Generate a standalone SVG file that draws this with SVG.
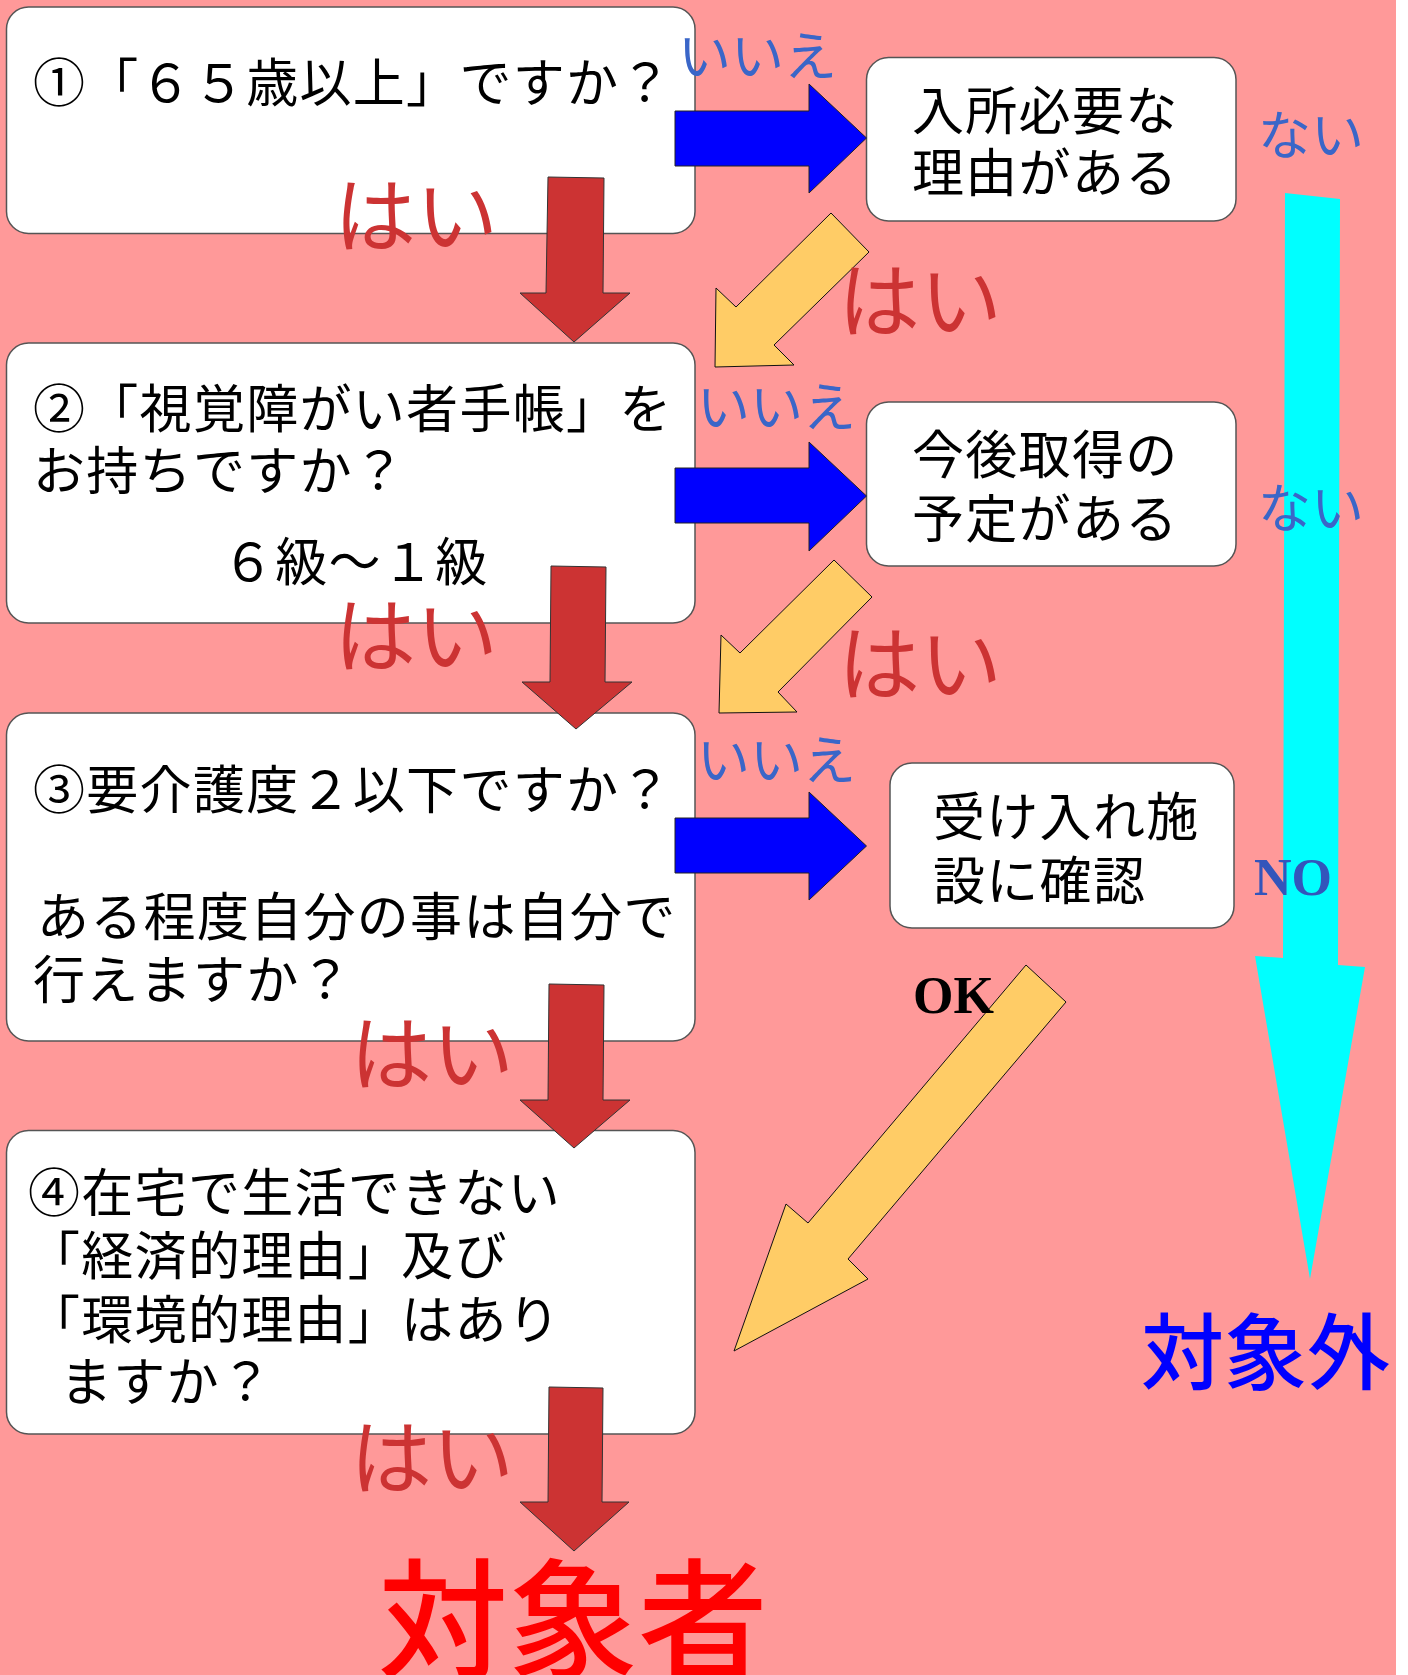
<svg xmlns="http://www.w3.org/2000/svg" width="1408" height="1675" viewBox="0 0 1408 1675">
<style>
.box{fill:#FFFFFF;stroke:#555555;stroke-width:1.5}
.q{font-family:"Noto Sans CJK JP","Noto Sans CJK SC",sans-serif;font-size:52px;fill:#000000;letter-spacing:1.3px}
.hai{font-family:"Noto Sans CJK JP",sans-serif;font-size:82px;fill:#CC3333;font-weight:400}
.iie{font-family:"Noto Sans CJK JP",sans-serif;font-size:53px;fill:#3A66C8;font-weight:400}
.red{fill:#CC3333;stroke:#333333;stroke-width:1}
.blue{fill:#0000FF;stroke:#222222;stroke-width:1}
.yel{fill:#FFCC66;stroke:#111111;stroke-width:1}
</style>
<rect x="0" y="0" width="1408" height="1675" fill="#FFFFFF"/>
<rect x="0" y="0" width="1396" height="1675" fill="#FF9999"/>

<g id="node-q1">
<rect class="box" x="6.5" y="7" width="688.5" height="226.5" rx="22" ry="22"/>
<text class="q" x="33" y="102">①「６５歳以上」ですか？</text>
</g>
<g id="node-q2">
<rect class="box" x="6.5" y="343" width="688.5" height="280" rx="22" ry="22"/>
<text class="q" x="33" y="428">②「視覚障がい者手帳」を</text>
<text class="q" x="33" y="490">お持ちですか？</text>
<text class="q" x="222" y="581">６級～１級</text>
</g>
<g id="node-q3">
<rect class="box" x="6.5" y="713" width="688.5" height="328" rx="22" ry="22"/>
<text class="q" x="33" y="809">③要介護度２以下ですか？</text>
<text class="q" x="37" y="936">ある程度自分の事は自分で</text>
<text class="q" x="33" y="999">行えますか？</text>
</g>
<g id="node-q4">
<rect class="box" x="6.5" y="1130.5" width="688.5" height="303.5" rx="22" ry="22"/>
<text class="q" x="28" y="1212">④在宅で生活できない</text>
<text class="q" x="28" y="1275">「経済的理由」及び</text>
<text class="q" x="28" y="1339">「環境的理由」はあり</text>
<text class="q" x="60" y="1401">ますか？</text>
</g>
<g id="node-a1">
<rect class="box" x="866.5" y="57.5" width="369.5" height="163.5" rx="22" ry="22"/>
<text class="q" x="912" y="130">入所必要な</text>
<text class="q" x="912" y="192">理由がある</text>
</g>
<g id="node-a2">
<rect class="box" x="866.5" y="402" width="369.5" height="164" rx="22" ry="22"/>
<text class="q" x="912" y="474">今後取得の</text>
<text class="q" x="912" y="538">予定がある</text>
</g>
<g id="node-a3">
<rect class="box" x="890" y="763" width="344" height="165" rx="22" ry="22"/>
<text class="q" x="933" y="836">受け入れ施</text>
<text class="q" x="933" y="900">設に確認</text>
</g>
<g id="node-target">
<text x="378" y="1668" font-family="Noto Sans CJK JP,sans-serif" font-size="130" font-weight="500" fill="#FF0000">対象者</text>
</g>
<g id="node-excluded">
<text x="1141" y="1383" font-family="Noto Sans CJK JP,sans-serif" font-size="83" font-weight="500" fill="#0000FF">対象外</text>
</g>

<g id="connectors">
<polygon fill="#00FFFF" points="1285,193 1340,199 1338,965 1365,967 1310,1279 1255,956 1283,958"/>
<polygon class="red" stroke="none" points="548,177 604,178 603,293 630,293 574,342 520,293 546,293"/>
<polygon class="red" points="551,566 606,567 605,682 632,682 576,729 522,682 550,682"/>
<polygon class="red" stroke="none" points="549,984 604,985 603,1100 630,1100 574,1148 520,1100 548,1100"/>
<polygon class="red" points="549,1387 603,1388 602,1502 629,1502 574,1551 520,1502 548,1502"/>
<polygon class="blue" points="675,111 809,111 809,84 866.5,138 809,193 809,166 675,166"/>
<polygon class="blue" points="675,468 809,468 809,442 866.5,496 809,551 809,523 675,523"/>
<polygon class="blue" points="675,818 809,818 809,792 866.5,846 809,900 809,873 675,873"/>
<polygon class="yel" points="831,213 869,252 774,345 794,365 715,367 716,288 736,307"/>
<polygon class="yel" points="834,560 872,597 778,692 797,712 719,713 721,635 740,653"/>
<polygon class="yel" points="1026,965 1066,1002 848,1259 868,1279 734,1351 786,1204 808,1223"/>
<text class="hai" x="334" y="246">はい</text>
<text class="hai" x="334" y="666">はい</text>
<text class="hai" x="350" y="1084">はい</text>
<text class="hai" x="350" y="1488">はい</text>
<text class="hai" x="838" y="331">はい</text>
<text class="hai" x="838" y="694">はい</text>
<text class="iie" x="678" y="76">いいえ</text>
<text class="iie" x="697" y="427">いいえ</text>
<text class="iie" x="697" y="780">いいえ</text>
<text class="iie" x="1258" y="155">ない</text>
<text class="iie" x="1258" y="528">ない</text>
<text x="1254" y="895" font-family="Liberation Serif,serif" font-size="52" font-weight="bold" fill="#3355BB">NO</text>
<text x="913" y="1013" font-family="Liberation Serif,serif" font-size="52" font-weight="bold" fill="#000000">OK</text>
</g>
</svg>
